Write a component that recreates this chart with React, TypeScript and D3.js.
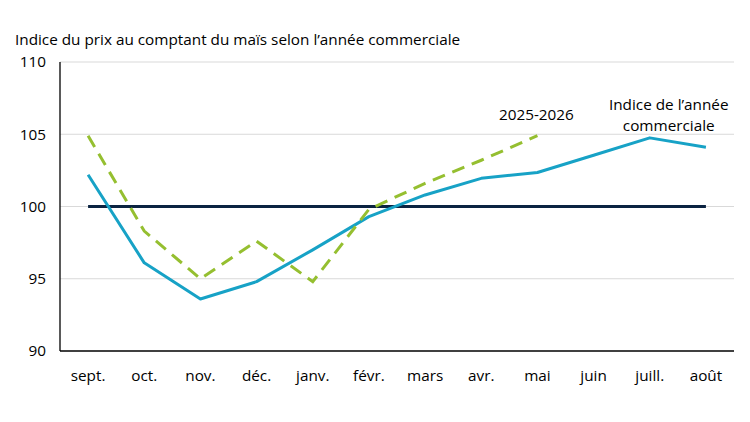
import * as d3 from "d3";

const MONTHS = ["sept.", "oct.", "nov.", "déc.", "janv.", "févr.", "mars", "avr.", "mai", "juin", "juill.", "août"];
const INDEX_VALUES = [102.2, 96.1, 93.6, 94.8, 97.0, 99.3, 100.8, 101.95, 102.35, 103.55, 104.75, 104.1];
const CURRENT_VALUES = [104.9, 98.3, 95.0, 97.6, 94.8, 99.8, 101.6, 103.2, 104.9];
const BASELINE = 100;
const Y_TICKS = [90, 95, 100, 105, 110];

const MARGIN = { top: 62, right: 16, bottom: 71, left: 60 };
const WIDTH = 750;
const HEIGHT = 422;
const FONT = "'Open Sans', sans-serif";
const FS = 15.3;

export default function App() {
  const boundsWidth = WIDTH - MARGIN.left - MARGIN.right;
  const boundsHeight = HEIGHT - MARGIN.top - MARGIN.bottom;

  const xScale = d3.scaleBand().domain(MONTHS).range([0, boundsWidth]).padding(0);
  const yScale = d3.scaleLinear().domain([90, 110]).range([boundsHeight, 0]);
  const xc = (m: string) => (xScale(m) ?? 0) + xScale.bandwidth() / 2;

  const line = d3
    .line<number>()
    .x((_, i) => xc(MONTHS[i]))
    .y((d) => yScale(d));

  const flat = MONTHS.map(() => BASELINE);

  return (
    <svg width={WIDTH} height={HEIGHT} style={{ display: "block", position: "absolute", left: 0, top: 0 }}>
      <rect width={WIDTH} height={HEIGHT} fill="#fff" />
      <text x={15} y={45} fontFamily={FONT} fontSize={FS} fill="#000">
        Indice du prix au comptant du maïs selon l’année commerciale
      </text>
      <g transform={`translate(${MARGIN.left},${MARGIN.top})`}>
        {Y_TICKS.map((t) => (
          <g key={t}>
            {t > 90 && (
              <line x1={0} x2={boundsWidth} y1={yScale(t)} y2={yScale(t)} stroke="#d9d9d9" strokeWidth={1} />
            )}
            <text
              x={-14}
              y={yScale(t)}
              dy="0.35em"
              textAnchor="end"
              fontFamily={FONT}
              fontSize={FS}
              fill="#000"
            >
              {t}
            </text>
          </g>
        ))}
        <line x1={0} x2={0} y1={0} y2={boundsHeight} stroke="#000" strokeWidth={1.3} />
        <line x1={0} x2={boundsWidth} y1={boundsHeight} y2={boundsHeight} stroke="#000" strokeWidth={1.3} />
        {MONTHS.map((m) => (
          <text
            key={m}
            x={xc(m)}
            y={boundsHeight + 30}
            textAnchor="middle"
            fontFamily={FONT}
            fontSize={FS}
            fill="#000"
          >
            {m}
          </text>
        ))}
        <path d={line(flat) ?? ""} fill="none" stroke="#0b2341" strokeWidth={3} />
        <path d={line(INDEX_VALUES) ?? ""} fill="none" stroke="#17a2c6" strokeWidth={3} strokeLinejoin="round" />
        <path
          d={line(CURRENT_VALUES) ?? ""}
          fill="none"
          stroke="#95bf30"
          strokeWidth={3}
          strokeDasharray="13 8"
        />
        <text x={xc("mai") - 1} y={yScale(105) - 14} textAnchor="middle" fontFamily={FONT} fontSize={FS} fill="#000">
          2025-2026
        </text>
        <text x={xc("juill.") + 19} y={yScale(105) - 24} textAnchor="middle" fontFamily={FONT} fontSize={FS} fill="#000">
          <tspan x={xc("juill.") + 19}>Indice de l’année</tspan>
          <tspan x={xc("juill.") + 19} dy={21}>
            commerciale
          </tspan>
        </text>
      </g>
    </svg>
  );
}
